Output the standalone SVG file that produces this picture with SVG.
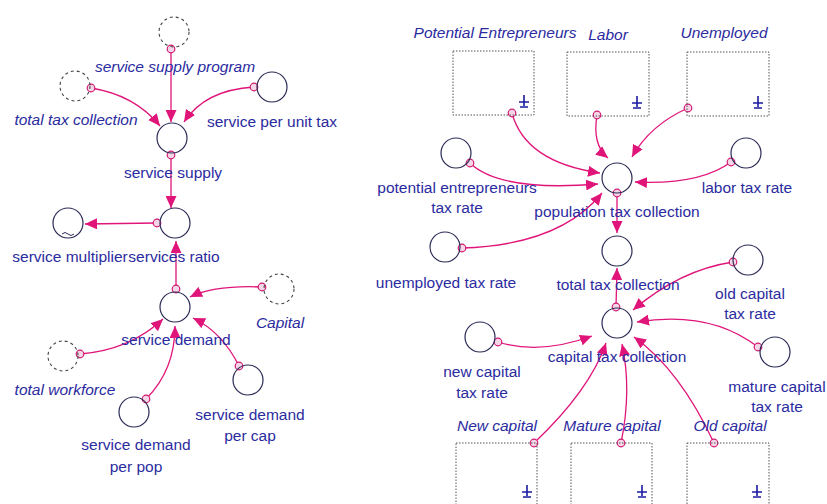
<svg xmlns="http://www.w3.org/2000/svg" width="827" height="504" viewBox="0 0 827 504">
<defs>
<marker id="ah" markerUnits="userSpaceOnUse" markerWidth="13" markerHeight="11" refX="12" refY="5.5" orient="auto"><path d="M0,0 L12,5.5 L0,11 Z" fill="#e0157a"/></marker>
<style>
.v{fill:none;stroke:#2a2a55;stroke-width:1.2}
.g{fill:none;stroke:#444;stroke-width:1.1;stroke-dasharray:3 3}
.b{fill:none;stroke:#555;stroke-width:1;stroke-dasharray:1.5 1.5}
.t{font-family:"Liberation Sans",Arial,sans-serif;font-size:15.5px;fill:#2b2ba0;text-anchor:middle}
.i{font-style:italic}
.c{fill:none;stroke:#e0157a;stroke-width:1.3;marker-end:url(#ah)}
.d{fill:#f6d6e6;stroke:#d01a72;stroke-width:1.2}
.s{stroke:#1a1aa0;stroke-width:1.6;fill:none}
</style>
</defs>
<rect width="827" height="504" fill="#fff"/>
<g id="connectors">
<path class="c" d="M171,49 L171,122"/>
<path class="c" d="M91,88 Q135,95 160,126"/>
<path class="c" d="M254,87 Q205,90 184,122"/>
<path class="c" d="M171,155 L171,208"/>
<path class="c" d="M157,223 L85,224"/>
<path class="c" d="M176,289 L176,241"/>
<path class="c" d="M262,287 Q215,285 190,297"/>
<path class="c" d="M80,354 Q130,350 163,319"/>
<path class="c" d="M146,399 Q175,370 175,326"/>
<path class="c" d="M239,366 Q222,332 193,318"/>
<path class="c" d="M512,113 Q525,162 600,173"/>
<path class="c" d="M597,115 Q592,145 608,158"/>
<path class="c" d="M688,108 Q650,125 632,157"/>
<path class="c" d="M470,163 Q500,192 598,184"/>
<path class="c" d="M731,162 Q700,185 635,182"/>
<path class="c" d="M462,248 Q560,245 602,193"/>
<path class="c" d="M617,193 L617,233"/>
<path class="c" d="M616,307 L617,268"/>
<path class="c" d="M733,262 Q680,270 633,310"/>
<path class="c" d="M758,347 Q710,310 637,322"/>
<path class="c" d="M498,342 Q540,355 592,336"/>
<path class="c" d="M534,443 Q590,390 606,343"/>
<path class="c" d="M621,443 Q632,390 622,344"/>
<path class="c" d="M714,443 Q680,370 634,337"/>
<circle class="d" cx="171" cy="49" r="3.8"/>
<circle class="d" cx="91" cy="88" r="3.8"/>
<circle class="d" cx="254" cy="87" r="3.8"/>
<circle class="d" cx="171" cy="155" r="3.8"/>
<circle class="d" cx="157" cy="223" r="3.8"/>
<circle class="d" cx="176" cy="289" r="3.8"/>
<circle class="d" cx="262" cy="287" r="3.8"/>
<circle class="d" cx="80" cy="354" r="3.8"/>
<circle class="d" cx="146" cy="399" r="3.8"/>
<circle class="d" cx="239" cy="366" r="3.8"/>
<circle class="d" cx="512" cy="113" r="3.8"/>
<circle class="d" cx="597" cy="115" r="3.8"/>
<circle class="d" cx="688" cy="108" r="3.8"/>
<circle class="d" cx="470" cy="163" r="3.8"/>
<circle class="d" cx="731" cy="162" r="3.8"/>
<circle class="d" cx="462" cy="248" r="3.8"/>
<circle class="d" cx="617" cy="193" r="3.8"/>
<circle class="d" cx="616" cy="307" r="3.8"/>
<circle class="d" cx="733" cy="262" r="3.8"/>
<circle class="d" cx="758" cy="347" r="3.8"/>
<circle class="d" cx="498" cy="342" r="3.8"/>
<circle class="d" cx="534" cy="443" r="3.8"/>
<circle class="d" cx="621" cy="443" r="3.8"/>
<circle class="d" cx="714" cy="443" r="3.8"/>
</g>
<g id="service-supply-program"><circle class="g" cx="174" cy="32" r="15"/><text class="t i" x="175" y="72">service supply program</text></g>
<g id="total-tax-collection-ghost"><circle class="g" cx="75" cy="86" r="15"/><text class="t i" x="76" y="125">total tax collection</text></g>
<g id="service-per-unit-tax"><circle class="v" cx="272" cy="87" r="15"/><text class="t" x="272" y="127">service per unit tax</text></g>
<g id="service-supply"><circle class="v" cx="172" cy="138" r="15"/><text class="t" x="173" y="178">service supply</text></g>
<g id="service-multiplier"><circle class="v" cx="68" cy="223" r="15"/><path d="M62,234 q3,-3 6,0 t6,0" fill="none" stroke="#2a2a55" stroke-width="1"/><text class="t" x="70" y="262">service multiplier</text></g>
<g id="services-ratio"><circle class="v" cx="175" cy="223" r="15"/><text class="t" x="174" y="262">services ratio</text></g>
<g id="service-demand"><circle class="v" cx="175" cy="307" r="15"/><text class="t" x="176" y="345">service demand</text></g>
<g id="capital"><circle class="g" cx="279" cy="289" r="15"/><text class="t i" x="280" y="328">Capital</text></g>
<g id="total-workforce"><circle class="g" cx="63" cy="356" r="15"/><text class="t i" x="65" y="395">total workforce</text></g>
<g id="service-demand-per-pop"><circle class="v" cx="134" cy="412" r="15"/><text class="t" x="136" y="450">service demand</text><text class="t" x="136" y="472">per pop</text></g>
<g id="service-demand-per-cap"><circle class="v" cx="248" cy="380" r="15"/><text class="t" x="250" y="420">service demand</text><text class="t" x="250" y="441">per cap</text></g>
<g id="potential-entrepreneurs"><rect class="b" x="453" y="51" width="81" height="64"/><path class="s" d="M524,95 V106 M519,102 H529 M520,107 H528"/><text class="t i" x="495" y="38">Potential Entrepreneurs</text></g>
<g id="labor"><rect class="b" x="567" y="52" width="82" height="64"/><path class="s" d="M637,96 V107 M632,103 H642 M633,108 H641"/><text class="t i" x="608" y="40">Labor</text></g>
<g id="unemployed"><rect class="b" x="687" y="52" width="82" height="64"/><path class="s" d="M758,96 V107 M753,103 H763 M754,108 H762"/><text class="t i" x="724" y="38">Unemployed</text></g>
<g id="potential-entrepreneurs-tax-rate"><circle class="v" cx="456" cy="153" r="15"/><text class="t" x="457" y="193">potential entrepreneurs</text><text class="t" x="457" y="213">tax rate</text></g>
<g id="labor-tax-rate"><circle class="v" cx="746" cy="153" r="15"/><text class="t" x="747" y="193">labor tax rate</text></g>
<g id="population-tax-collection"><circle class="v" cx="617" cy="178" r="15"/><text class="t" x="617" y="217">population tax collection</text></g>
<g id="unemployed-tax-rate"><circle class="v" cx="445" cy="247" r="15"/><text class="t" x="446" y="288">unemployed tax rate</text></g>
<g id="total-tax-collection"><circle class="v" cx="617" cy="251" r="15"/><text class="t" x="618" y="290">total tax collection</text></g>
<g id="old-capital-tax-rate"><circle class="v" cx="748" cy="260" r="15"/><text class="t" x="750" y="299">old capital</text><text class="t" x="750" y="319">tax rate</text></g>
<g id="capital-tax-collection"><circle class="v" cx="617" cy="323" r="15"/><text class="t" x="617" y="362">capital tax collection</text></g>
<g id="new-capital-tax-rate"><circle class="v" cx="480" cy="337" r="15"/><text class="t" x="482" y="377">new capital</text><text class="t" x="482" y="398">tax rate</text></g>
<g id="mature-capital-tax-rate"><circle class="v" cx="775" cy="352" r="15"/><text class="t" x="777" y="392">mature capital</text><text class="t" x="777" y="412">tax rate</text></g>
<g id="new-capital"><rect class="b" x="456" y="443" width="81" height="70"/><path class="s" d="M527,485 V496 M522,492 H532 M523,497 H531"/><text class="t i" x="497" y="431">New capital</text></g>
<g id="mature-capital"><rect class="b" x="571" y="443" width="81" height="70"/><path class="s" d="M642,485 V496 M637,492 H647 M638,497 H646"/><text class="t i" x="612" y="431">Mature capital</text></g>
<g id="old-capital"><rect class="b" x="687" y="443" width="82" height="70"/><path class="s" d="M757,485 V496 M752,492 H762 M753,497 H761"/><text class="t i" x="730" y="431">Old capital</text></g>
</svg>
